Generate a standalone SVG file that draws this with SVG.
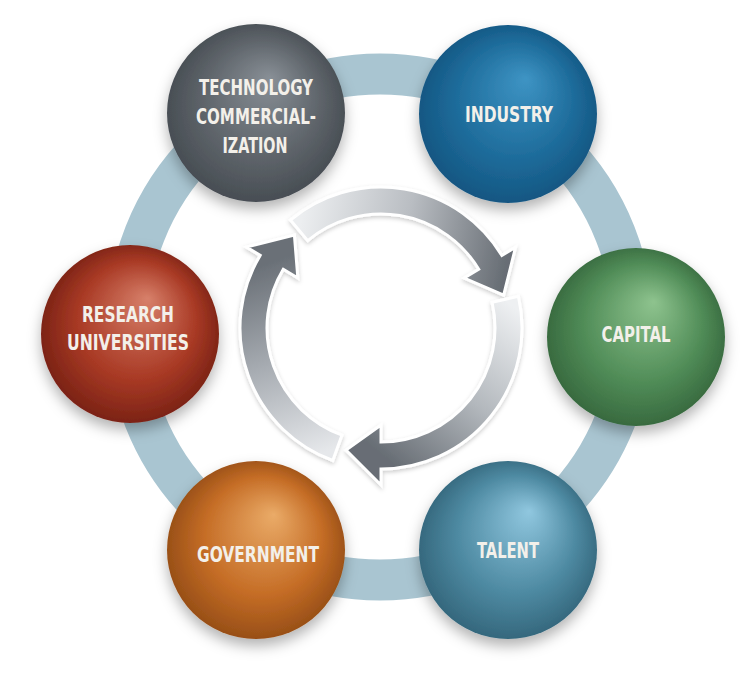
<svg xmlns="http://www.w3.org/2000/svg" width="748" height="678" viewBox="0 0 748 678">
  <style>
    .lbl { font-family: "Liberation Sans Narrow", "DejaVu Sans Condensed", "DejaVu Sans", sans-serif; font-weight: bold; font-size: 21px; fill: #f3f0ea; text-anchor: middle; font-stretch: condensed; }
    .arr { stroke: #ffffff; stroke-width: 3; stroke-linejoin: miter; }
    .sph { filter: url(#shadow); }
  </style>
  <defs>
    <filter id="shadow" x="-30%" y="-30%" width="160%" height="170%">
      <feDropShadow dx="0" dy="7" stdDeviation="7" flood-color="#000000" flood-opacity="0.3"/>
    </filter>
    <filter id="ashadow" x="-10%" y="-10%" width="120%" height="120%">
      <feDropShadow dx="0" dy="2" stdDeviation="2" flood-color="#000000" flood-opacity="0.2"/>
    </filter>
    <radialGradient id="gTech" cx="0.5" cy="0.5" r="0.55" fx="0.58" fy="0.3">
      <stop offset="0" stop-color="#888f96"/>
      <stop offset="0.6" stop-color="#5e646a"/>
      <stop offset="1" stop-color="#43494f"/>
    </radialGradient>
    <radialGradient id="gInd" cx="0.5" cy="0.5" r="0.55" fx="0.6" fy="0.3">
      <stop offset="0" stop-color="#3e94c4"/>
      <stop offset="0.6" stop-color="#1e6c9b"/>
      <stop offset="1" stop-color="#12527d"/>
    </radialGradient>
    <radialGradient id="gCap" cx="0.5" cy="0.5" r="0.55" fx="0.6" fy="0.3">
      <stop offset="0" stop-color="#8ec38e"/>
      <stop offset="0.6" stop-color="#518d58"/>
      <stop offset="1" stop-color="#33633a"/>
    </radialGradient>
    <radialGradient id="gTal" cx="0.5" cy="0.5" r="0.55" fx="0.62" fy="0.28">
      <stop offset="0" stop-color="#90c7df"/>
      <stop offset="0.6" stop-color="#4e8aa2"/>
      <stop offset="1" stop-color="#306176"/>
    </radialGradient>
    <radialGradient id="gGov" cx="0.5" cy="0.5" r="0.55" fx="0.6" fy="0.3">
      <stop offset="0" stop-color="#eaab68"/>
      <stop offset="0.6" stop-color="#c56d26"/>
      <stop offset="1" stop-color="#8f4914"/>
    </radialGradient>
    <radialGradient id="gRes" cx="0.5" cy="0.5" r="0.55" fx="0.6" fy="0.3">
      <stop offset="0" stop-color="#d7806a"/>
      <stop offset="0.6" stop-color="#a93a25"/>
      <stop offset="1" stop-color="#721e12"/>
    </radialGradient>
    <linearGradient id="aTop" gradientUnits="userSpaceOnUse" x1="299" y1="230" x2="505" y2="272">
      <stop offset="0" stop-color="#eceef0"/>
      <stop offset="0.5" stop-color="#b9bdc2"/>
      <stop offset="1" stop-color="#676d74"/>
    </linearGradient>
    <linearGradient id="aRight" gradientUnits="userSpaceOnUse" x1="505" y1="300" x2="381" y2="455">
      <stop offset="0" stop-color="#eef0f2"/>
      <stop offset="0.5" stop-color="#b3b8bd"/>
      <stop offset="1" stop-color="#676d74"/>
    </linearGradient>
    <linearGradient id="aLeft" gradientUnits="userSpaceOnUse" x1="337" y1="448" x2="270" y2="262">
      <stop offset="0" stop-color="#e6e8eb"/>
      <stop offset="0.5" stop-color="#a8adb3"/>
      <stop offset="1" stop-color="#6a7077"/>
    </linearGradient>
  </defs>

  <rect width="748" height="678" fill="#ffffff"/>

  <g id="connectors">
    <circle id="ring" cx="380" cy="327" r="253" fill="none" stroke="#a9c5d1" stroke-width="41"/>
    <g id="cycle-arrows" filter="url(#ashadow)">
      <path class="arr" fill="url(#aTop)" d="M290.37,219.99 A141,141 0 0 1 501.86,255.38 L515.58,247.14 L503.67,295.13 L464.15,278.04 L478.72,269.29 A114,114 0 0 0 307.72,240.68 Z"/>
      <path class="arr" fill="url(#aRight)" d="M518.39,296.28 A141,141 0 0 1 381,469 L381,485 L346,450.08 L381,425 L381,442 A114,114 0 0 0 492.08,302.35 Z"/>
      <path class="arr" fill="url(#aLeft)" d="M332.78,460.5 A141,141 0 0 1 260.14,255.38 L246.42,247.14 L294.39,235.11 L297.85,278.04 L283.28,269.29 A114,114 0 0 0 342.01,435.13 Z"/>
    </g>
  </g>

  <g id="node-tech">
    <circle class="sph" cx="256" cy="113" r="89" fill="url(#gTech)"/>
    <text class="lbl" x="256" y="95" textLength="114" lengthAdjust="spacingAndGlyphs">TECHNOLOGY</text>
    <text class="lbl" x="256" y="124" textLength="120" lengthAdjust="spacingAndGlyphs">COMMERCIAL-</text>
    <text class="lbl" x="255" y="153" textLength="65" lengthAdjust="spacingAndGlyphs">IZATION</text>
  </g>

  <g id="node-industry">
    <circle class="sph" cx="508" cy="114" r="89" fill="url(#gInd)"/>
    <text class="lbl" x="509" y="122" textLength="88" lengthAdjust="spacingAndGlyphs">INDUSTRY</text>
  </g>

  <g id="node-capital">
    <circle class="sph" cx="636" cy="337" r="89" fill="url(#gCap)"/>
    <text class="lbl" x="636" y="342" textLength="69" lengthAdjust="spacingAndGlyphs">CAPITAL</text>
  </g>

  <g id="node-talent">
    <circle class="sph" cx="508" cy="550" r="89" fill="url(#gTal)"/>
    <text class="lbl" x="508" y="558" textLength="62" lengthAdjust="spacingAndGlyphs">TALENT</text>
  </g>

  <g id="node-government">
    <circle class="sph" cx="256" cy="550" r="89" fill="url(#gGov)"/>
    <text class="lbl" x="258" y="562" textLength="122" lengthAdjust="spacingAndGlyphs">GOVERNMENT</text>
  </g>

  <g id="node-research">
    <circle class="sph" cx="130" cy="334" r="89" fill="url(#gRes)"/>
    <text class="lbl" x="128" y="322" textLength="92" lengthAdjust="spacingAndGlyphs">RESEARCH</text>
    <text class="lbl" x="128" y="350" textLength="122" lengthAdjust="spacingAndGlyphs">UNIVERSITIES</text>
  </g>
</svg>
